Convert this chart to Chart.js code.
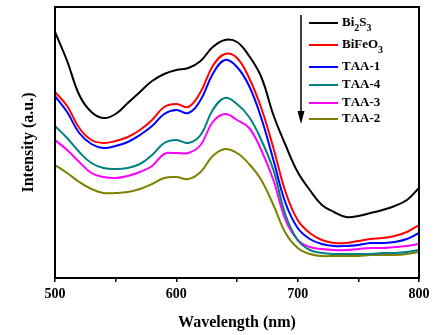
<!DOCTYPE html>
<html lang="en">
<head>
<meta charset="UTF-8">
<script src="https://cdn.jsdelivr.net/npm/chart.js"></script>
<title>UV-Vis spectra</title>
<style>
  html, body { margin: 0; padding: 0; background: #fff; }
  #wrap { width: 441px; height: 335px; }
</style>
</head>
<body>
<div id="wrap"><canvas id="uvChart"></canvas></div>
<script>
// wavelength grid (nm)
const wavelengths = [500, 510, 520, 530, 540, 550, 560, 570, 580, 590, 600,
                     610, 620, 630, 640, 650, 660, 670, 680, 690, 700,
                     710, 720, 730, 740, 750, 760, 770, 780, 790, 800];

// intensity (a.u.)
const bi2s3  = [246, 217, 183, 166, 160, 164, 175, 186, 197, 204, 208, 210, 217, 231, 238, 236, 222, 201, 163, 133, 106, 88, 73, 66, 61, 62, 65, 68, 72, 78, 90];
const bifeo3 = [186, 172, 150, 138, 135, 137, 141, 148, 158, 171, 174, 171, 186, 212, 224, 220, 200, 170, 130, 86, 58, 45, 38, 35, 35, 37, 39, 40, 42, 46, 53];
const taa1   = [182, 166, 145, 134, 130, 132, 136, 143, 152, 164, 168, 165, 178, 204, 218, 211, 192, 160, 118, 75, 50, 39, 34, 32, 32, 33, 35, 35, 36, 39, 45];
const taa4   = [152, 140, 126, 115, 110, 109, 110, 114, 123, 135, 138, 135, 143, 168, 180, 174, 161, 138, 108, 63, 38, 28, 25, 24, 24, 24, 24, 25, 25, 26, 28];
const taa3   = [138, 128, 116, 105, 101, 100, 102, 106, 112, 124, 125, 125, 133, 156, 164, 158, 150, 128, 98, 58, 38, 31, 29, 28, 28, 29, 30, 30, 31, 32, 34];
const taa2   = [113, 105, 96, 89, 85, 85, 86, 89, 94, 100, 101, 99, 106, 122, 129, 125, 114, 98, 73, 45, 30, 24, 22, 22, 22, 22, 23, 23, 23, 24, 26];

const seriesNames  = ['Bi₂S₃', 'BiFeO₃', 'TAA-1', 'TAA-4', 'TAA-3', 'TAA-2'];
const seriesValues = [bi2s3, bifeo3, taa1, taa4, taa3, taa2];
const seriesColors = ['#000000', '#ff0000', '#0000ff', '#008080', '#ff00ff', '#808000'];
const xTicks = [500, 600, 700, 800];

const serif = "'Liberation Serif', 'Times New Roman', serif";

function toPoints(vals) {
    return vals.map((v, i) => ({ x: wavelengths[i], y: v }));
}

// box round the plot area
const framePlugin = {
    id: 'frame',
    afterDraw(chart) {
        const { ctx, chartArea: a } = chart;
        ctx.save();
        ctx.strokeStyle = '#000';
        ctx.lineWidth = 2;
        ctx.strokeRect(a.left, a.top, a.right - a.left, a.bottom - a.top);
        ctx.restore();
    }
};

// legend with the downward arrow, subscripts drawn smaller and lower
const legendPlugin = {
    id: 'arrowLegend',
    afterDraw(chart) {
        const ctx = chart.ctx;
        const rowsY = [23, 45, 67, 85, 103, 119];
        ctx.save();
        // arrow
        ctx.strokeStyle = '#000';
        ctx.fillStyle = '#000';
        ctx.lineWidth = 1.5;
        ctx.beginPath();
        ctx.moveTo(301, 15);
        ctx.lineTo(301, 114);
        ctx.stroke();
        ctx.beginPath();
        ctx.moveTo(297.5, 111);
        ctx.lineTo(304.5, 111);
        ctx.lineTo(301, 124);
        ctx.closePath();
        ctx.fill();

        const subs = '₀₁₂₃₄₅₆₇₈₉';
        seriesNames.forEach((name, i) => {
            const y = rowsY[i];
            ctx.strokeStyle = seriesColors[i];
            ctx.lineWidth = 2;
            ctx.beginPath();
            ctx.moveTo(309, y);
            ctx.lineTo(338, y);
            ctx.stroke();

            ctx.fillStyle = '#000';
            ctx.textBaseline = 'middle';
            let x = 342;
            for (const ch of name) {
                const k = subs.indexOf(ch);
                if (k >= 0) {
                    ctx.font = 'bold 10px ' + serif;
                    ctx.fillText(String(k), x, y + 5);
                    x += ctx.measureText(String(k)).width;
                } else {
                    ctx.font = 'bold 13px ' + serif;
                    ctx.fillText(ch, x, y);
                    x += ctx.measureText(ch).width;
                }
            }
        });
        ctx.restore();
    }
};

const config = {
    type: 'line',
    data: {
        datasets: seriesNames.map((name, i) => ({
            label: name,
            data: toPoints(seriesValues[i]),
            borderColor: seriesColors[i],
            backgroundColor: seriesColors[i],
            borderWidth: 2,
            pointRadius: 0,
            tension: 0.4,
            fill: false
        }))
    },
    options: {
        responsive: true,
        maintainAspectRatio: false,
        animation: false,
        devicePixelRatio: 1,
        layout: { padding: { left: 19, top: 7, right: 22, bottom: 1 } },
        plugins: {
            legend: { display: false },
            tooltip: { enabled: false }
        },
        scales: {
            x: {
                type: 'linear',
                min: 500,
                max: 800,
                afterFit(scale) { scale.height = 56; },
                ticks: {
                    stepSize: 50,
                    padding: 4,
                    color: '#000',
                    font: { family: serif, size: 14, weight: 'bold' },
                    callback: v => xTicks.includes(v) ? String(v) : ''
                },
                grid: {
                    drawOnChartArea: false,
                    drawTicks: true,
                    tickLength: 4,
                    color: '#000',
                    lineWidth: 1.5
                },
                border: { display: false },
                title: {
                    display: true,
                    text: 'Wavelength (nm)',
                    color: '#000',
                    font: { family: serif, size: 16, weight: 'bold' },
                    padding: { top: 0, bottom: 2 }
                }
            },
            y: {
                min: 0,
                max: 271,
                afterFit(scale) { scale.width = 36; },
                ticks: { display: false },
                grid: { display: false },
                border: { display: false },
                title: {
                    display: true,
                    text: 'Intensity (a.u.)',
                    color: '#000',
                    font: { family: serif, size: 16, weight: 'bold' },
                    padding: 0
                }
            }
        }
    },
    plugins: [framePlugin, legendPlugin]
};

const uvChart = new Chart(document.getElementById('uvChart'), config);
</script>
</body>
</html>
